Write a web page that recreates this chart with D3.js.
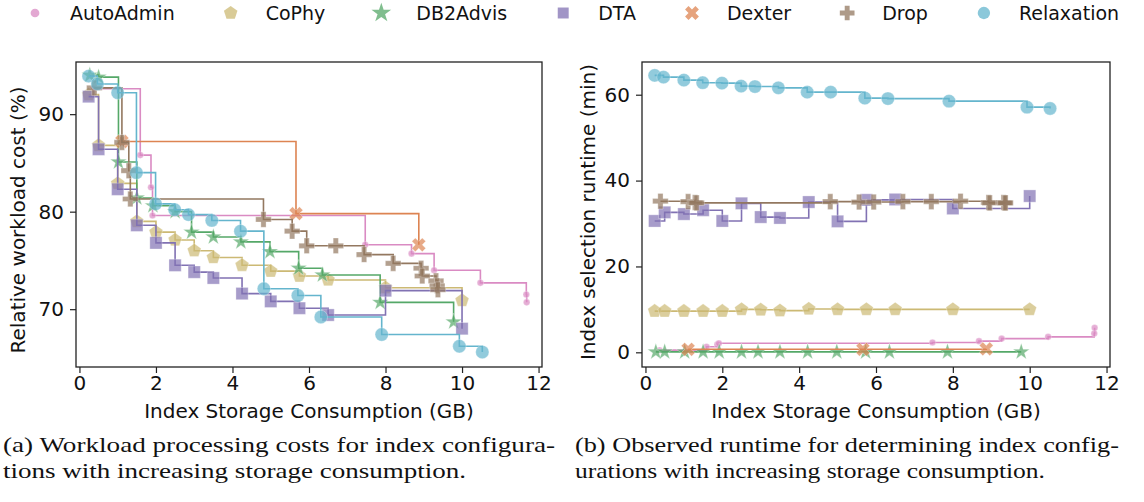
<!DOCTYPE html>
<html>
<head>
<meta charset="utf-8">
<script src="https://cdn.jsdelivr.net/npm/d3@7"></script>
<style>
  body { margin: 0; background: #fff; }
  svg { display: block; }
  .axis-line line { stroke: #222; stroke-width: 1.2px; }
  .axis-line text { font-size: 20px; fill: #111; font-family: "DejaVu Sans", sans-serif; }
  .axis-label { font-size: 20px; fill: #111; font-family: "DejaVu Sans", sans-serif; }
  .legend-label { font-size: 19px; fill: #111; font-family: "DejaVu Sans", sans-serif; }
  .caption { font-size: 22px; fill: #111; }
</style>
</head>
<body>
<svg width="1144" height="502"></svg>
<script>
// algorithms, legend order
const algorithms = ["AutoAdmin", "CoPhy", "DB2Advis", "DTA", "Dexter", "Drop", "Relaxation"];
const colors = ["#da8bc3", "#ccb974", "#55a868", "#8172b3", "#dd8452", "#937860", "#64b5cd"];

// storage (GB), relative cost (%), runtime (min)
const autoAdminStorage = [0.37, 1.59, 1.87, 1.91, 7.47, 8.68, 9.27, 10.48, 11.68, 11.69];
const autoAdminCost    = [92.6, 85.8, 82.5, 79.6, 76.6, 75.7, 74.0, 72.7, 71.5, 70.7];
const autoAdminRuntime = [0.5, 1.3, 1.8, 2.1, 2.3, 2.6, 3.2, 3.6, 4.4, 5.7];

const coPhyStorage = [0.24, 0.50, 1.00, 1.50, 2.00, 2.50, 3.00, 3.50, 4.25, 5.00, 5.75, 6.50, 8.00, 10.00];
const coPhyCost    = [92.0, 86.8, 82.9, 79.0, 77.9, 77.1, 76.0, 75.3, 74.5, 73.9, 73.4, 73.0, 72.2, 70.9];
const coPhyRuntime = [9.6, 9.6, 9.6, 9.6, 9.6, 10.0, 9.9, 9.7, 10.1, 10.0, 10.0, 10.0, 10.0, 10.0];

const db2AdvisStorage = [0.27, 0.50, 1.02, 1.50, 1.92, 2.50, 2.93, 3.50, 4.22, 4.98, 5.73, 6.35, 7.86, 9.78];
const db2AdvisCost    = [94.0, 93.8, 85.1, 81.4, 80.6, 80.0, 77.9, 77.4, 76.9, 75.9, 74.2, 73.5, 70.7, 68.7];
const db2AdvisRuntime = [0.1, 0.1, 0.1, 0.1, 0.1, 0.1, 0.1, 0.1, 0.1, 0.1, 0.1, 0.1, 0.1, 0.1];

const dtaStorage = [0.24, 0.50, 1.00, 1.50, 2.00, 2.50, 3.00, 3.50, 4.25, 5.00, 5.75, 6.50, 8.00, 10.00];
const dtaCost    = [91.8, 86.4, 82.3, 78.6, 76.8, 74.5, 73.8, 73.2, 71.6, 70.8, 70.1, 69.4, 71.9, 68.0];
const dtaRuntime = [30.6, 32.6, 32.2, 33.1, 30.6, 34.7, 31.5, 31.3, 35.0, 30.5, 35.5, 35.6, 33.5, 36.4];

const dexterStorage = [1.11, 5.66, 8.87];
const dexterCost    = [87.2, 79.8, 76.6];
const dexterRuntime = [0.7, 0.7, 0.8];

const dropStorage = [0.39, 1.11, 1.29, 1.33, 4.81, 5.56, 5.94, 6.70, 7.44, 8.20, 8.93, 8.96, 9.32, 9.35, 9.37];
const dropCost    = [92.7, 87.1, 84.2, 81.3, 79.2, 78.0, 76.5, 76.5, 75.6, 74.7, 74.2, 73.4, 72.9, 72.4, 72.0];
const dropRuntime = [35.2, 35.1, 34.9, 34.8, 35.1, 35.0, 35.0, 35.1, 35.1, 35.2, 34.9, 34.8, 34.9, 34.8, 34.8];

const relaxationStorage = [0.24, 0.47, 1.00, 1.49, 1.99, 2.49, 2.85, 3.46, 4.21, 4.82, 5.71, 6.31, 7.90, 9.93, 10.53];
const relaxationCost    = [93.9, 93.1, 92.2, 84.0, 80.8, 80.2, 79.7, 79.1, 78.0, 72.1, 71.4, 69.2, 67.4, 66.2, 65.6];
const relaxationRuntime = [64.5, 64.1, 63.4, 62.8, 62.7, 62.0, 61.9, 61.6, 60.6, 60.6, 59.2, 59.1, 58.5, 57.1, 56.8];

const storageTicks = [0, 2, 4, 6, 8, 10, 12];
const costTicks = [70, 80, 90];
const runtimeTicks = [0, 20, 40, 60];

const captionA = ["(a) Workload processing costs for index configura-", "tions with increasing storage consumption."];
const captionB = ["(b) Observed runtime for determining index config-", "urations with increasing storage consumption."];

const storage = [autoAdminStorage, coPhyStorage, db2AdvisStorage, dtaStorage, dexterStorage, dropStorage, relaxationStorage];
const costs = [autoAdminCost, coPhyCost, db2AdvisCost, dtaCost, dexterCost, dropCost, relaxationCost];
const runtimes = [autoAdminRuntime, coPhyRuntime, db2AdvisRuntime, dtaRuntime, dexterRuntime, dropRuntime, relaxationRuntime];

// pentagon marker (matplotlib "p")
const symbolPentagon = {
  draw(context, size) {
    const r = Math.sqrt(size / 2.378);
    for (let i = 0; i < 5; i++) {
      const a = -Math.PI / 2 + i * 2 * Math.PI / 5;
      if (i === 0) context.moveTo(r * Math.cos(a), r * Math.sin(a));
      else context.lineTo(r * Math.cos(a), r * Math.sin(a));
    }
    context.closePath();
  }
};

const markers = [
  {type: d3.symbolCircle, size: 34, rotate: 0},
  {type: symbolPentagon, size: 125, rotate: 0},
  {type: d3.symbolStar, size: 85, rotate: 0},
  {type: d3.symbolSquare, size: 150, rotate: 0},
  {type: d3.symbolCross, size: 120, rotate: 45},
  {type: d3.symbolCross, size: 135, rotate: 0},
  {type: d3.symbolCircle, size: 140, rotate: 0}
];

const svg = d3.select("svg");

function drawPanel(opts) {
  const x = d3.scaleLinear().domain([-0.09, 12.09]).range([opts.left, opts.right]);
  const y = d3.scaleLinear().domain(opts.yDomain).range([opts.bottom, opts.top]);

  const g = svg.append("g");

  algorithms.forEach((name, i) => {
    const pts = storage[i].map((s, j) => ({x: s, y: opts.values[i][j]}));
    const line = d3.line()
      .x((d) => x(d.x))
      .y((d) => y(d.y))
      .curve(d3.curveStepAfter);

    g.append("path")
      .datum(pts)
      .attr("d", line)
      .attr("fill", "none")
      .attr("stroke", colors[i])
      .attr("stroke-width", 1.6);

    const sym = d3.symbol().type(markers[i].type).size(markers[i].size);
    g.selectAll(null)
        .data(pts)
      .enter().append("path")
        .attr("d", sym)
        .attr("transform", (d) => "translate(" + x(d.x) + "," + y(d.y) + ") rotate(" + markers[i].rotate + ")")
        .attr("fill", colors[i])
        .attr("fill-opacity", 0.7)
        .attr("stroke", "#fff")
        .attr("stroke-opacity", 0.5)
        .attr("stroke-width", 0.6);
  });

  // frame
  g.append("rect")
    .attr("x", opts.left)
    .attr("y", opts.top)
    .attr("width", opts.right - opts.left)
    .attr("height", opts.bottom - opts.top)
    .attr("fill", "none")
    .attr("stroke", "#222")
    .attr("stroke-width", 1.3);

  const xAxis = g.append("g")
    .attr("class", "axis-line")
    .attr("transform", "translate(0," + opts.bottom + ")")
    .call(d3.axisBottom(x).tickValues(storageTicks).tickSize(6).tickSizeOuter(0).tickPadding(3));
  xAxis.select(".domain").remove();

  const yAxis = g.append("g")
    .attr("class", "axis-line")
    .attr("transform", "translate(" + opts.left + ",0)")
    .call(d3.axisLeft(y).tickValues(opts.ticks).tickSize(6).tickSizeOuter(0).tickPadding(6));
  yAxis.select(".domain").remove();

  g.append("text")
    .attr("class", "axis-label")
    .attr("x", (opts.left + opts.right) / 2)
    .attr("y", 418)
    .style("text-anchor", "middle")
    .text("Index Storage Consumption (GB)");

  g.append("text")
    .attr("class", "axis-label")
    .attr("transform", "translate(" + opts.yLabelX + "," + opts.yLabelY + ") rotate(-90)")
    .style("text-anchor", "middle")
    .text(opts.yLabel);

  // captions in a serif face, squeezed to the reference widths
  opts.caption.forEach((t, k) => {
    g.append("text")
      .attr("class", "caption")
      .attr("font-family", "Liberation Serif")
      .style("font-family", "'Liberation Serif', 'DejaVu Serif', 'Times New Roman', serif")
      .attr("x", opts.captionX)
      .attr("y", 452 + k * 26)
      .attr("textLength", opts.captionWidths[k])
      .attr("lengthAdjust", "spacingAndGlyphs")
      .text(t);
  });
}

drawPanel({
  left: 76, right: 542, top: 62, bottom: 367,
  yDomain: [64.07, 95.35], ticks: costTicks, values: costs,
  yLabel: "Relative workload cost (%)", yLabelX: 25, yLabelY: 220,
  caption: captionA, captionX: 3, captionWidths: [552, 463]
});

drawPanel({
  left: 642, right: 1110, top: 62, bottom: 367,
  yDomain: [-3.42, 67.62], ticks: runtimeTicks, values: runtimes,
  yLabel: "Index selection runtime (min)", yLabelX: 595, yLabelY: 212,
  caption: captionB, captionX: 575, captionWidths: [544, 470]
});

// legend across the top
const legend = svg.append("g");
let cursor = 35;
algorithms.forEach((name, i) => {
  legend.append("path")
    .attr("d", d3.symbol().type(markers[i].type).size(i === 0 ? 60 : 120))
    .attr("transform", "translate(" + cursor + ",13) rotate(" + markers[i].rotate + ")")
    .attr("fill", colors[i])
    .attr("fill-opacity", 0.75);
  const label = legend.append("text")
    .attr("class", "legend-label")
    .attr("x", cursor + 35)
    .attr("y", 13)
    .attr("dy", "0.35em")
    .text(name);
  cursor += 35 + label.node().getComputedTextLength() + 56;
});
</script>
</body>
</html>
